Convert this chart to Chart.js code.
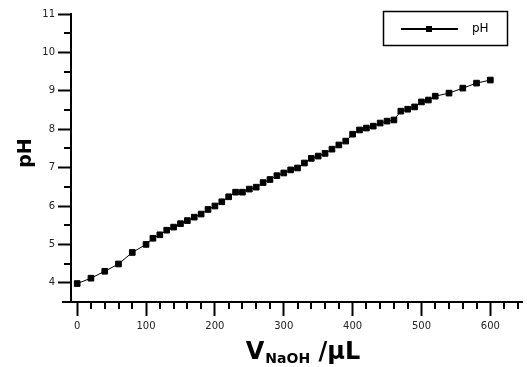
<!DOCTYPE html>
<html>
<head>
<meta charset="utf-8">
<script src="https://cdn.jsdelivr.net/npm/chart.js@4.4.0/dist/chart.umd.min.js"></script>
<style>
  html, body { margin: 0; padding: 0; background: #fff; }
  #wrap { width: 527px; height: 367px; position: relative; }
</style>
</head>
<body>
<div id="wrap"><canvas id="titration" width="527" height="367"></canvas></div>
<script>
// Titration curve: pH against added volume of NaOH (µL)
const volumes = [0, 20, 40, 60, 80, 100, 110, 120, 130, 140, 150, 160, 170, 180, 190,
    200, 210, 220, 230, 240, 250, 260, 270, 280, 290, 300, 310, 320, 330, 340, 350,
    360, 370, 380, 390, 400, 410, 420, 430, 440, 450, 460, 470, 480, 490, 500, 510,
    520, 540, 560, 580, 600];
const phValues = [3.98, 4.12, 4.30, 4.49, 4.79, 5.00, 5.16, 5.25, 5.37, 5.45, 5.54,
    5.62, 5.71, 5.79, 5.91, 6.00, 6.11, 6.24, 6.36, 6.36, 6.44, 6.49, 6.61, 6.69,
    6.79, 6.86, 6.94, 6.99, 7.12, 7.24, 7.30, 7.37, 7.48, 7.59, 7.69, 7.87, 7.98,
    8.03, 8.08, 8.16, 8.21, 8.24, 8.47, 8.52, 8.58, 8.71, 8.76, 8.86, 8.94, 9.07,
    9.20, 9.28];
const xTicks = [0, 100, 200, 300, 400, 500, 600];
const yTicks = [4, 5, 6, 7, 8, 9, 10, 11];
const seriesName = 'pH';

const FONT = '"DejaVu Sans", Verdana, sans-serif';

// minor ticks, x-axis stub, legend box and the axis titles
const decorations = {
  id: 'decorations',
  afterDraw(chart) {
    const ctx = chart.ctx;
    const xs = chart.scales.x, ys = chart.scales.y;
    const area = chart.chartArea;
    ctx.save();
    ctx.strokeStyle = '#000';
    ctx.lineWidth = 2;

    // minor ticks
    ctx.beginPath();
    for (let v = 20; v <= xs.max; v += 20) {
      if (v % 100 === 0) continue;
      const px = Math.round(xs.getPixelForValue(v));
      ctx.moveTo(px, area.bottom);
      ctx.lineTo(px, area.bottom + 7);
    }
    for (let v = 4.5; v <= ys.max; v += 1) {
      const py = Math.round(ys.getPixelForValue(v));
      ctx.moveTo(area.left, py);
      ctx.lineTo(area.left - 7, py);
    }
    // x axis line runs a little past the y axis
    ctx.moveTo(area.left - 9, Math.round(area.bottom));
    ctx.lineTo(area.left, Math.round(area.bottom));
    ctx.stroke();

    // legend
    ctx.lineWidth = 1.5;
    ctx.strokeRect(383.5, 11.5, 124, 34);
    ctx.lineWidth = 2;
    ctx.beginPath();
    ctx.moveTo(401, 29);
    ctx.lineTo(458, 29);
    ctx.stroke();
    ctx.fillStyle = '#000';
    ctx.fillRect(426, 26, 6, 6);
    ctx.font = '12px ' + FONT;
    ctx.textBaseline = 'middle';
    ctx.fillText(seriesName, 472, 29);

    // x title with subscript
    ctx.textBaseline = 'alphabetic';
    const big = 'bold 24px ' + FONT, small = 'bold 14px ' + FONT;
    ctx.font = big;
    const wV = ctx.measureText('V').width;
    const wTail = ctx.measureText(' /µL').width;
    ctx.font = small;
    const wSub = ctx.measureText('NaOH').width;
    let x = 303 - (wV + 1 + wSub + wTail) / 2;
    ctx.font = big;
    ctx.fillText('V', x, 359);
    x += wV + 1;
    ctx.font = small;
    ctx.fillText('NaOH', x, 363);
    x += wSub;
    ctx.font = big;
    ctx.fillText(' /µL', x, 359);

    // y title
    ctx.translate(31, 153);
    ctx.rotate(-Math.PI / 2);
    ctx.font = 'bold 19px ' + FONT;
    ctx.textAlign = 'center';
    ctx.fillText('pH', 0, 0);
    ctx.restore();
  }
};

new Chart(document.getElementById('titration').getContext('2d'), {
  type: 'scatter',
  data: {
    datasets: [{
      label: seriesName,
      data: volumes.map((v, i) => ({ x: v, y: phValues[i] })),
      showLine: true,
      borderColor: '#000',
      borderWidth: 1,
      tension: 0,
      pointStyle: 'rect',
      pointRadius: 4,
      pointBackgroundColor: '#000',
      pointBorderColor: '#000',
      pointBorderWidth: 1
    }]
  },
  options: {
    responsive: false,
    animation: false,
    events: [],
    layout: { padding: { top: 14, right: 0, left: 0, bottom: 0 } },
    plugins: { legend: { display: false }, tooltip: { enabled: false } },
    scales: {
      x: {
        type: 'linear',
        min: -9,
        max: 646,
        afterBuildTicks: s => { s.ticks = xTicks.map(v => ({ value: v })); },
        afterFit: s => { s.height = 65; },
        grid: { drawOnChartArea: false, tickLength: 14, tickWidth: 2, tickColor: '#000' },
        border: { color: '#000', width: 2 },
        ticks: { color: '#222', font: { family: FONT, size: 10 }, padding: 4, maxRotation: 0 }
      },
      y: {
        min: 3.5,
        max: 11,
        afterBuildTicks: s => { s.ticks = yTicks.map(v => ({ value: v })); },
        afterFit: s => { s.width = 71; },
        grid: { drawOnChartArea: false, tickLength: 13, tickWidth: 2, tickColor: '#000' },
        border: { color: '#000', width: 2 },
        ticks: { color: '#222', font: { family: FONT, size: 10 }, padding: 3 }
      }
    }
  },
  plugins: [decorations]
});
</script>
</body>
</html>
